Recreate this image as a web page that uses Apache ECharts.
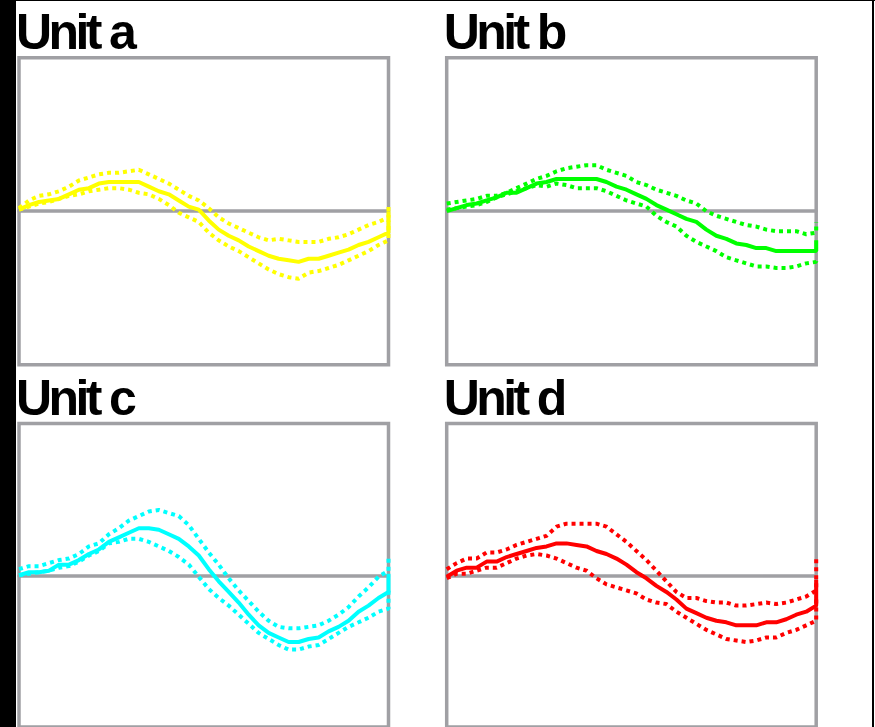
<!DOCTYPE html>
<html>
<head>
<meta charset="utf-8">
<script src="https://cdn.jsdelivr.net/npm/echarts@6/dist/echarts.min.js"></script>
<style>
  html, body { margin: 0; padding: 0; background: #fff; }
  #chart { width: 875px; height: 727px; }
  /* tight, condensed heading lettering */
  #chart svg text { letter-spacing: -3.6px; }
</style>
</head>
<body>
<div id="chart"></div>
<script>
// Sample index along the trace; the last sample is the closing value at the same position
const sampleIndex = [0,1,2,3,4,5,6,7,8,9,10,11,12,13,14,15,16,17,18,19,20,21,22,23,24,25,26,27,28,29,30,31,32,33,34,35,36,37,37];

const unitTitles = ['Unit a', 'Unit b', 'Unit c', 'Unit d'];
const unitColors = ['#ffff00', '#00ff00', '#00ffff', '#ff0000'];

const unitA_mean  = [0.01,0.04,0.06,0.07,0.08,0.11,0.14,0.15,0.18,0.19,0.19,0.19,0.19,0.16,0.13,0.11,0.07,0.03,0.01,-0.06,-0.12,-0.16,-0.19,-0.23,-0.26,-0.29,-0.31,-0.32,-0.33,-0.31,-0.31,-0.29,-0.27,-0.25,-0.22,-0.20,-0.17,-0.14,0.00];
const unitA_upper = [0.02,0.07,0.10,0.11,0.13,0.16,0.20,0.22,0.24,0.25,0.25,0.26,0.27,0.24,0.21,0.18,0.14,0.10,0.07,0.02,-0.04,-0.08,-0.11,-0.14,-0.17,-0.19,-0.18,-0.19,-0.20,-0.20,-0.20,-0.18,-0.17,-0.15,-0.12,-0.09,-0.07,-0.04,0.05];
const unitA_lower = [0.01,0.03,0.05,0.06,0.08,0.10,0.11,0.13,0.14,0.15,0.15,0.14,0.12,0.11,0.08,0.04,-0.01,-0.04,-0.07,-0.14,-0.19,-0.23,-0.26,-0.30,-0.34,-0.38,-0.41,-0.43,-0.44,-0.40,-0.39,-0.37,-0.35,-0.32,-0.29,-0.26,-0.22,-0.19,-0.06];

const unitB_mean  = [0.00,0.02,0.04,0.05,0.07,0.09,0.12,0.12,0.15,0.18,0.19,0.21,0.21,0.21,0.21,0.21,0.19,0.16,0.14,0.11,0.08,0.04,0.01,-0.02,-0.05,-0.07,-0.12,-0.16,-0.18,-0.21,-0.22,-0.24,-0.24,-0.26,-0.26,-0.26,-0.26,-0.26,-0.19];
const unitB_upper = [0.05,0.06,0.07,0.08,0.10,0.10,0.12,0.15,0.18,0.21,0.23,0.26,0.28,0.29,0.30,0.30,0.27,0.25,0.23,0.19,0.17,0.14,0.12,0.10,0.07,0.05,0.00,-0.03,-0.05,-0.07,-0.09,-0.10,-0.12,-0.13,-0.13,-0.13,-0.15,-0.14,-0.07];
const unitB_lower = [0.01,0.02,0.03,0.04,0.06,0.09,0.11,0.13,0.15,0.17,0.16,0.18,0.17,0.15,0.15,0.15,0.13,0.10,0.07,0.05,0.03,-0.03,-0.07,-0.10,-0.16,-0.20,-0.23,-0.26,-0.30,-0.32,-0.34,-0.36,-0.36,-0.37,-0.37,-0.36,-0.34,-0.33,-0.30];

const unitC_mean  = [0.00,0.02,0.02,0.03,0.07,0.07,0.10,0.14,0.17,0.22,0.25,0.28,0.31,0.31,0.30,0.27,0.24,0.19,0.13,0.04,-0.04,-0.11,-0.18,-0.26,-0.33,-0.38,-0.41,-0.44,-0.44,-0.42,-0.41,-0.37,-0.34,-0.30,-0.24,-0.20,-0.15,-0.11,0.01];
const unitC_upper = [0.04,0.06,0.06,0.08,0.10,0.11,0.14,0.19,0.21,0.27,0.31,0.36,0.39,0.42,0.43,0.41,0.39,0.33,0.24,0.15,0.07,-0.02,-0.10,-0.17,-0.24,-0.30,-0.34,-0.35,-0.35,-0.34,-0.33,-0.30,-0.26,-0.21,-0.14,-0.08,-0.01,0.03,0.11];
const unitC_lower = [0.00,0.01,0.02,0.03,0.05,0.06,0.09,0.13,0.16,0.21,0.22,0.24,0.24,0.22,0.19,0.16,0.12,0.07,-0.01,-0.09,-0.15,-0.20,-0.26,-0.32,-0.38,-0.42,-0.46,-0.49,-0.49,-0.47,-0.46,-0.42,-0.38,-0.34,-0.31,-0.28,-0.24,-0.22,-0.09];

const unitD_mean  = [-0.01,0.03,0.05,0.05,0.09,0.09,0.12,0.14,0.16,0.18,0.19,0.21,0.21,0.20,0.19,0.16,0.14,0.11,0.07,0.02,-0.02,-0.07,-0.11,-0.16,-0.22,-0.25,-0.28,-0.30,-0.31,-0.33,-0.33,-0.33,-0.31,-0.31,-0.29,-0.26,-0.24,-0.20,-0.03];
const unitD_upper = [0.04,0.08,0.11,0.11,0.15,0.15,0.17,0.20,0.22,0.24,0.26,0.32,0.34,0.34,0.34,0.34,0.32,0.27,0.22,0.16,0.10,0.03,-0.04,-0.11,-0.15,-0.15,-0.17,-0.18,-0.18,-0.20,-0.20,-0.19,-0.18,-0.19,-0.18,-0.16,-0.14,-0.10,0.11];
const unitD_lower = [-0.02,0.01,0.01,0.03,0.05,0.05,0.08,0.11,0.13,0.14,0.13,0.11,0.08,0.05,0.03,-0.02,-0.06,-0.08,-0.10,-0.12,-0.16,-0.18,-0.19,-0.24,-0.28,-0.32,-0.36,-0.39,-0.42,-0.43,-0.44,-0.43,-0.41,-0.41,-0.38,-0.36,-0.33,-0.30,-0.15];

const unitTraces = [
  [unitA_mean, unitA_upper, unitA_lower],
  [unitB_mean, unitB_upper, unitB_lower],
  [unitC_mean, unitC_upper, unitC_lower],
  [unitD_mean, unitD_upper, unitD_lower]
];

// Panel placement (2 x 2)
const panelLayout = [
  { left: 19,    top: 57.7 },
  { left: 446.7, top: 57.7 },
  { left: 19,    top: 423.5 },
  { left: 446.7, top: 423.5 }
];
const PANEL_W = 369.5, PANEL_H = 307;
const FRAME = '#a0a0a4';

const pairs = vals => sampleIndex.map((x, i) => [x, vals[i]]);

const grid = [], xAxis = [], yAxis = [], series = [], graphic = [];

panelLayout.forEach((p, k) => {
  grid.push({
    left: p.left, top: p.top, width: PANEL_W, height: PANEL_H,
    show: true, borderColor: FRAME, borderWidth: 3.5, backgroundColor: 'transparent'
  });
  xAxis.push({
    type: 'value', gridIndex: k, min: 0, max: 37,
    axisLine: { show: true, onZero: true, lineStyle: { color: FRAME, width: 3.5 } },
    axisTick: { show: false }, axisLabel: { show: false }, splitLine: { show: false }
  });
  yAxis.push({
    type: 'value', gridIndex: k, min: -1, max: 1,
    axisLine: { show: false }, axisTick: { show: false },
    axisLabel: { show: false }, splitLine: { show: false }
  });

  const [mean, upper, lower] = unitTraces[k];
  const color = unitColors[k];
  [upper, lower].forEach(band => {
    series.push({
      type: 'line', xAxisIndex: k, yAxisIndex: k, data: pairs(band),
      showSymbol: false, clip: false, z: 3,
      lineStyle: { color, width: 4, type: [4, 4], cap: 'butt' }
    });
  });
  series.push({
    type: 'line', xAxisIndex: k, yAxisIndex: k, data: pairs(mean),
    showSymbol: false, clip: false, z: 4,
    lineStyle: { color, width: 4, type: 'solid' }
  });

  // panel heading
  graphic.push({
    type: 'text', z: 10,
    x: p.left - 3, y: p.top - 50.5,
    style: {
      text: unitTitles[k], fill: '#000',
      font: 'bold 50px "Liberation Sans", Arial, sans-serif',
      align: 'left', verticalAlign: 'top'
    }
  });
});

// dark page edges
graphic.push(
  { type: 'rect', shape: { x: 0, y: 0, width: 16, height: 727 }, style: { fill: '#000' }, z: 20 },
  { type: 'rect', shape: { x: 0, y: 0, width: 875, height: 1 }, style: { fill: '#000' }, z: 20 },
  { type: 'rect', shape: { x: 872, y: 0, width: 2, height: 727 }, style: { fill: '#000' }, z: 20 }
);

const chart = echarts.init(document.getElementById('chart'), null, { renderer: 'svg' });
chart.setOption({
  backgroundColor: '#fff',
  animation: false,
  grid, xAxis, yAxis, series, graphic
});
</script>
</body>
</html>
